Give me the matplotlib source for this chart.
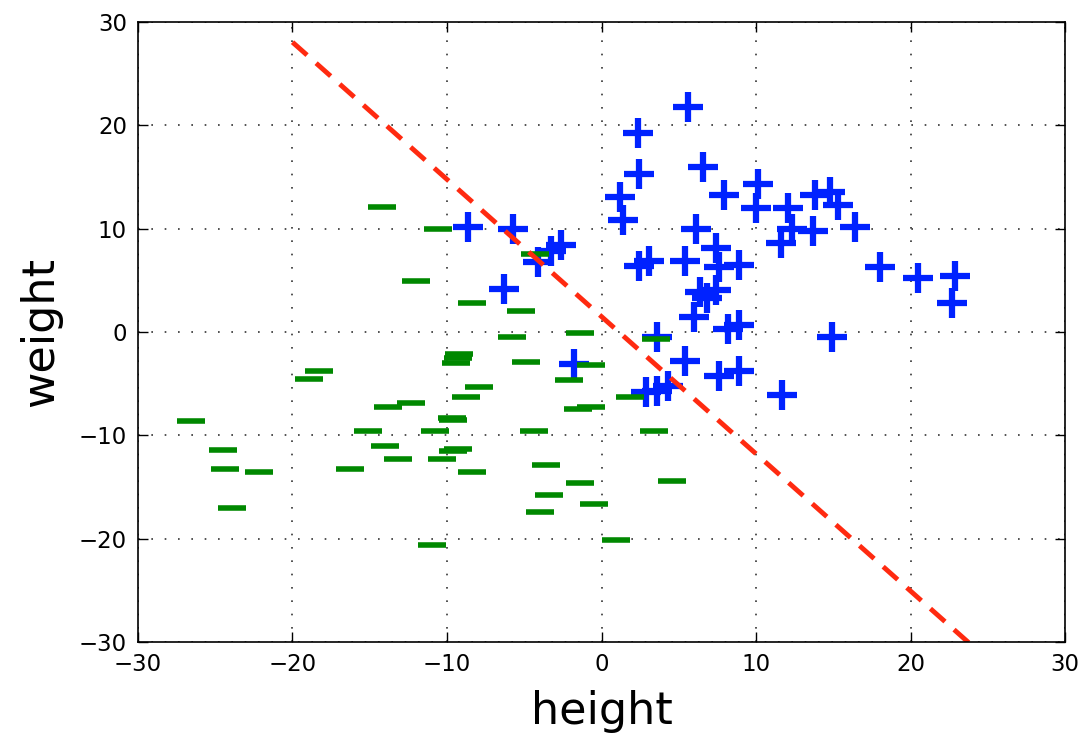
import matplotlib
matplotlib.use('Agg')
import matplotlib.pyplot as plt
import numpy as np

# class 1 (blue +)
blue_x = [5.6, 2.35, 2.45, 6.6, 1.2, 1.4, 7.9, 10.1, 10.0, 12.1, 13.8, 14.8, 15.3, 16.4, 13.7,
          11.6, 12.3, 6.1, 3.1, 2.4, 5.4, 7.4, 7.6, 8.9, 18.0, 20.5, 22.9, 22.7, 6.35, 6.8,
          7.4, 6.0, 8.2, 8.9, 14.9, 3.6, 5.4, 7.6, 8.9, 11.7, 2.9, 3.6, 4.3, -1.75, -8.65,
          -5.7, -2.6, -3.3, -4.1, -6.3]
blue_y = [21.8, 19.3, 15.3, 16.0, 13.1, 10.8, 13.3, 14.3, 12.0, 12.0, 13.3, 13.6, 12.3, 10.2, 9.8,
          8.6, 10.0, 10.0, 6.9, 6.4, 6.9, 8.1, 6.3, 6.5, 6.3, 5.2, 5.4, 2.8, 3.9, 3.3,
          4.1, 1.5, 0.3, 0.7, -0.45, -0.45, -2.8, -4.3, -3.8, -6.1, -5.8, -5.7, -5.2, -3.1, 10.2,
          10.0, 8.4, 7.8, 6.8, 4.2]

# class 2 (green _)
green_x = [-26.6, -24.5, -24.4, -23.9, -22.2, -18.3, -18.9, -13.85, -12.3, -15.1, -14.0, -13.2, -16.3,
           -11.0, -10.8, -10.3, -9.4, -9.3, -9.2, -7.9, -8.75, -9.7, -9.6, -9.3, -9.6, -8.4,
           -4.9, -4.4, -2.1, -0.7, -1.5, -0.67, -3.6, -3.4, -4.0, -1.4, -0.5, 0.95, 1.85, 3.4,
           4.55, -10.6, -4.3, -8.4, -5.2, -5.8, -1.4, 3.5, -12.0, -14.2]
green_y = [-8.65, -11.4, -13.3, -17.0, -13.5, -3.8, -4.55, -7.25, -6.9, -9.6, -11.0, -12.3, -13.3,
           -20.6, -9.6, -12.3, -3.0, -2.55, -2.1, -5.35, -6.3, -8.35, -8.5, -11.35, -11.5, -13.5,
           -2.9, -9.6, -4.6, -3.2, -7.45, -7.3, -12.9, -15.8, -17.4, -14.6, -16.6, -20.1, -6.3, -9.6,
           -14.45, 9.95, 7.6, 2.8, 2.0, -0.5, -0.1, -0.7, 4.9, 12.1]

# decision boundary
line_x = [-20, 25]
line_y = [28.05, -31.7]

fig = plt.figure(figsize=(10.84, 7.35), dpi=100)
ax = fig.add_axes([0.1273, 0.1265, 0.8552, 0.8435])

ax.plot(blue_x, blue_y, linestyle='none', marker='+', color='#0022ff', markersize=22, markeredgewidth=4.5)
ax.plot(green_x, green_y, linestyle='none', marker='_', color='#008800', markersize=20, markeredgewidth=4)
ax.plot(line_x, line_y, color='#ff2a10', linestyle='--', linewidth=3.5, dashes=(4, 2.5))

ax.set_xlim(-30, 30)
ax.set_ylim(-30, 30)
ax.set_xticks([-30, -20, -10, 0, 10, 20, 30])
ax.set_yticks([-30, -20, -10, 0, 10, 20, 30])
ax.grid(True, color='#333333', linestyle=(0, (1, 7)), linewidth=1.2)
ax.tick_params(direction='in', top=True, right=True, length=7, width=1, labelsize=16.5, pad=8)
for s in ax.spines.values():
    s.set_linewidth(1.2)

ax.set_xlabel('height', fontsize=32, labelpad=10)
ax.set_ylabel('weight', fontsize=32, labelpad=12)

fig.savefig('out.png', dpi=100)
